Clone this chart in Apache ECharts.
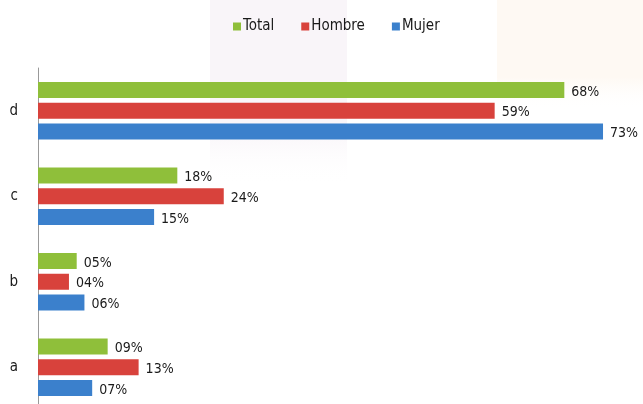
<!DOCTYPE html>
<html>
<head>
<meta charset="utf-8">
<script src="https://cdn.jsdelivr.net/npm/echarts@6/dist/echarts.min.js"></script>
<style>html,body{margin:0;padding:0;background:#fff;}#c{width:643px;height:404px;}</style>
</head>
<body>
<div id="c"></div>
<script>
const categories = ['a', 'b', 'c', 'd'];
const total = [9, 5, 18, 68];
const hombre = [13, 4, 24, 59];
const mujer = [7, 6, 15, 73];

const font = "'DejaVu Sans Condensed', 'Liberation Sans Narrow', sans-serif";
const chart = echarts.init(document.getElementById('c'));
function pad(v) { return (v < 10 ? '0' : '') + v + '%'; }
function mk(name, data, color) {
  return {
    name: name, type: 'bar', data: data,
    barWidth: 16, barGap: '30%', barCategoryGap: '32%',
    itemStyle: { color: color },
    label: {
      show: true, position: 'right', distance: 7,
      formatter: p => pad(p.value),
      color: '#1a1a1a', fontFamily: font, fontSize: 14, offset: [0, 2]
    }
  };
}
function fade(c) {
  return new echarts.graphic.LinearGradient(0, 0, 0, 1, [
    { offset: 0, color: c }, { offset: 0.7, color: c }, { offset: 1, color: 'rgba(255,255,255,0)' }
  ]);
}
chart.setOption({
  animation: false,
  backgroundColor: '#ffffff',
  graphic: [
    { type: 'rect', z: -10, shape: { x: 210, y: 0, width: 137, height: 185 }, style: { fill: fade('#f9f5f9') }, silent: true },
    { type: 'rect', z: -10, shape: { x: 497, y: 0, width: 146, height: 110 }, style: { fill: fade('#fef9f3') }, silent: true }
  ],
  legend: {
    data: ['Total', 'Hombre', 'Mujer'],
    top: 14, left: 228,
    itemWidth: 8, itemHeight: 8, itemGap: 27,
    icon: 'rect',
    textStyle: { fontFamily: font, fontSize: 15, color: '#1a1a1a', padding: [0, 0, 0, -3] }
  },
  grid: { left: 38, top: 68, width: 580.5, height: 342, containLabel: false, outerBoundsMode: 'none' },
  xAxis: { type: 'value', min: 0, max: 75, show: false },
  yAxis: {
    type: 'category', data: categories,
    axisLine: { show: true, lineStyle: { color: '#999', width: 1 } },
    axisTick: { show: false },
    axisLabel: { color: '#1a1a1a', fontFamily: font, fontSize: 15, margin: 20 }
  },
  series: [
    mk('Total', total, '#8fbf3a'),
    mk('Hombre', hombre, '#d8423c'),
    mk('Mujer', mujer, '#3b80cc')
  ]
});
</script>
</body>
</html>
